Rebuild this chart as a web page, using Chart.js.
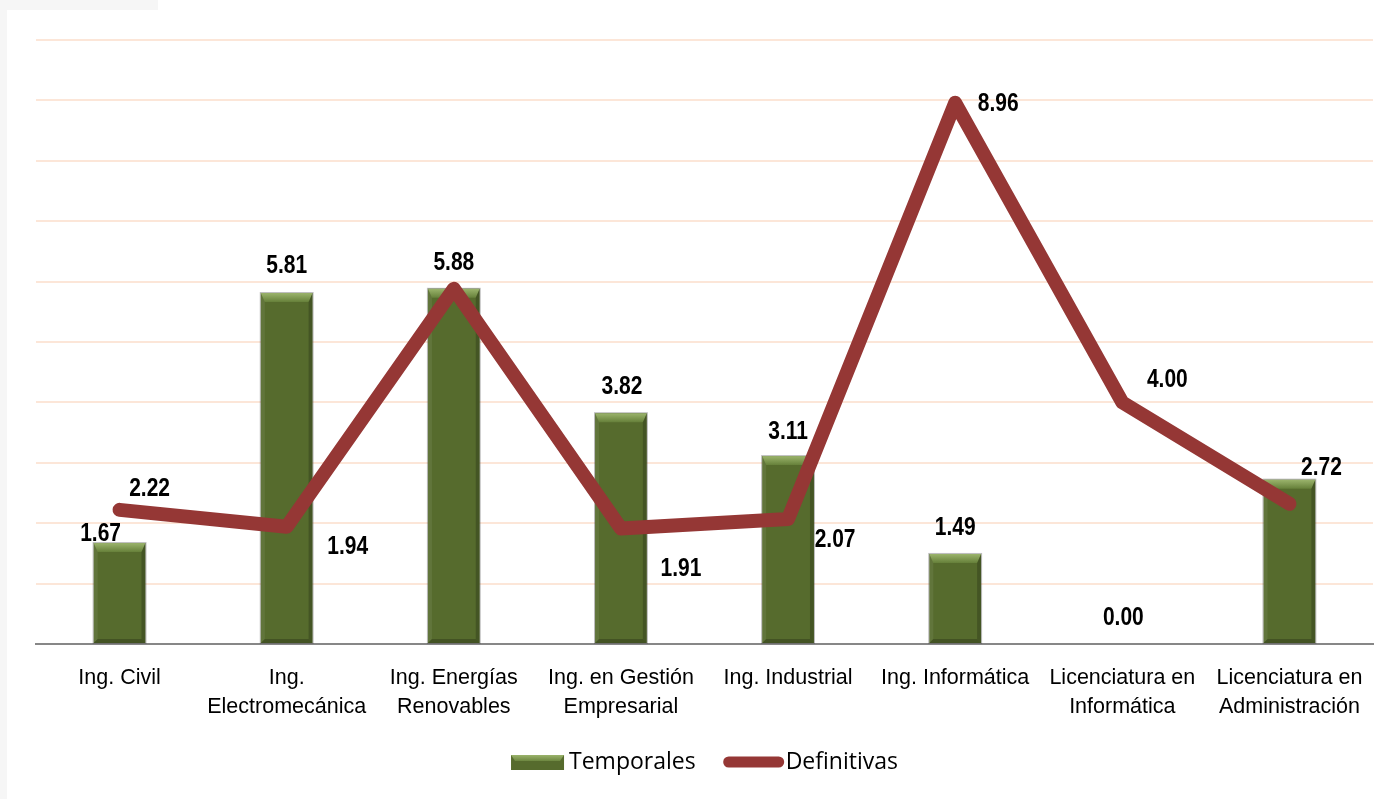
<!DOCTYPE html>
<html>
<head>
<meta charset="utf-8">
<script src="https://cdn.jsdelivr.net/npm/chart.js@4.4.0/dist/chart.umd.min.js"></script>
<style>
  html, body { margin: 0; padding: 0; background: #fff; }
  #wrap { position: relative; width: 1377px; height: 799px; }
  .strip { position: absolute; background: #f6f6f6; }
</style>
</head>
<body>
<div id="wrap">
  <div class="strip" style="left:0;top:0;width:7px;height:799px"></div>
  <div class="strip" style="left:0;top:0;width:158px;height:10px"></div>
  <canvas id="chart"></canvas>
</div>
<script>
const categories = [
  'Ing. Civil',
  ['Ing.', 'Electromecánica'],
  ['Ing. Energías', 'Renovables'],
  ['Ing. en Gestión', 'Empresarial'],
  'Ing. Industrial',
  'Ing. Informática',
  ['Licenciatura en', 'Informática'],
  ['Licenciatura en', 'Administración']
];
const temporales = [1.67, 5.81, 5.88, 3.82, 3.11, 1.49, 0.00, 2.72];
const definitivas = [2.22, 1.94, 5.88, 1.91, 2.07, 8.96, 4.00, 2.32];
const seriesNames = ['Temporales', 'Definitivas'];

// where each value label sits relative to its bar top / line point (null = no label)
const barLabelShift = [[-19, -9], [0, -27], [0, -26], [1, -26], [0, -24], [0, -26], [1, -26], [32, -12]];
const lineLabelShift = [[30, -21], [61, 20], null, [60, 41], [47, 21], [43, 1], [45, -22], null];

const GREEN = '#566b2d';
const RED = '#953735';
const SANS = '"Liberation Sans", Arial, sans-serif';

// bevelled look of the bars
const bevelBars = {
  id: 'bevelBars',
  afterDatasetDraw(chart, args) {
    if (args.index !== 0) return;
    const ctx = chart.ctx;
    args.meta.data.forEach(bar => {
      const p = bar.getProps(['x', 'y', 'base', 'width'], true);
      const h = p.base - p.y;
      if (h < 2) return;
      const l = p.x - p.width / 2, r = p.x + p.width / 2, t = p.y, b = p.base;
      const bv = Math.min(9, h / 2), sv = Math.min(4, h / 2);
      ctx.save();
      const g = ctx.createLinearGradient(0, t, 0, t + bv);
      g.addColorStop(0, '#9bb46c');
      g.addColorStop(1, '#66803a');
      ctx.fillStyle = g;
      ctx.beginPath();
      ctx.moveTo(l, t); ctx.lineTo(r, t); ctx.lineTo(r - sv, t + bv); ctx.lineTo(l + sv, t + bv);
      ctx.closePath(); ctx.fill();
      ctx.fillStyle = 'rgba(255,255,255,0.07)';
      ctx.beginPath();
      ctx.moveTo(l, t); ctx.lineTo(l + sv, t + bv); ctx.lineTo(l + sv, b - sv); ctx.lineTo(l, b);
      ctx.closePath(); ctx.fill();
      ctx.fillStyle = 'rgba(0,0,0,0.2)';
      ctx.beginPath();
      ctx.moveTo(r, t); ctx.lineTo(r - sv, t + bv); ctx.lineTo(r - sv, b - sv); ctx.lineTo(r, b);
      ctx.closePath(); ctx.fill();
      ctx.fillStyle = 'rgba(0,0,0,0.22)';
      ctx.beginPath();
      ctx.moveTo(l, b); ctx.lineTo(l + sv, b - sv); ctx.lineTo(r - sv, b - sv); ctx.lineTo(r, b);
      ctx.closePath(); ctx.fill();
      ctx.strokeStyle = 'rgba(60,60,60,0.35)';
      ctx.lineWidth = 1;
      ctx.strokeRect(l - 0.5, t - 0.5, p.width + 1, h + 1);
      ctx.restore();
    });
  }
};

// condensed bold value labels
function drawLabel(ctx, text, x, y) {
  ctx.save();
  ctx.translate(x, y);
  ctx.scale(0.84, 1);
  ctx.fillText(text, 0, 0);
  ctx.restore();
}

const valueLabels = {
  id: 'valueLabels',
  afterDatasetsDraw(chart) {
    const ctx = chart.ctx;
    ctx.save();
    ctx.font = 'bold 25px ' + SANS;
    ctx.fillStyle = '#000';
    ctx.textAlign = 'center';
    ctx.textBaseline = 'middle';
    chart.getDatasetMeta(0).data.forEach((bar, i) => {
      const s = barLabelShift[i];
      if (!s) return;
      drawLabel(ctx, temporales[i].toFixed(2), bar.x + s[0], bar.y + s[1]);
    });
    chart.getDatasetMeta(1).data.forEach((pt, i) => {
      const s = lineLabelShift[i];
      if (!s) return;
      drawLabel(ctx, definitivas[i].toFixed(2), pt.x + s[0], pt.y + s[1]);
    });
    ctx.restore();
  }
};

const bottomLegend = {
  id: 'bottomLegend',
  afterDraw(chart) {
    const ctx = chart.ctx;
    const area = chart.chartArea;
    ctx.save();
    ctx.font = '23px "Open Sans", sans-serif';
    const w0 = ctx.measureText(seriesNames[0]).width;
    const w1 = ctx.measureText(seriesNames[1]).width;
    const boxW = 53, lineW = 60, gap = 28;
    const total = boxW + 5 + w0 + gap + lineW + 2 + w1;
    let x = (area.left + area.right) / 2 - total / 2;
    const cy = 762;
    // bar swatch
    ctx.fillStyle = GREEN;
    ctx.fillRect(x, cy - 7, boxW, 15);
    const g = ctx.createLinearGradient(0, cy - 7, 0, cy - 1);
    g.addColorStop(0, '#9bb46c'); g.addColorStop(1, '#6d8740');
    ctx.fillStyle = g;
    ctx.beginPath();
    ctx.moveTo(x, cy - 7); ctx.lineTo(x + boxW, cy - 7); ctx.lineTo(x + boxW - 4, cy - 1); ctx.lineTo(x + 4, cy - 1);
    ctx.closePath(); ctx.fill();
    x += boxW + 5;
    ctx.fillStyle = '#000';
    ctx.textBaseline = 'middle';
    ctx.fillText(seriesNames[0], x, cy);
    x += w0 + gap;
    ctx.strokeStyle = RED;
    ctx.lineWidth = 11;
    ctx.lineCap = 'round';
    ctx.beginPath();
    ctx.moveTo(x + 5, cy); ctx.lineTo(x + lineW - 5, cy);
    ctx.stroke();
    x += lineW + 2;
    ctx.fillText(seriesNames[1], x, cy);
    ctx.restore();
  }
};

new Chart(document.getElementById('chart'), {
  type: 'bar',
  data: {
    labels: categories,
    datasets: [
      {
        type: 'bar',
        label: seriesNames[0],
        data: temporales,
        backgroundColor: GREEN,
        barPercentage: 0.31,
        categoryPercentage: 1,
        order: 1
      },
      {
        type: 'line',
        label: seriesNames[1],
        data: definitivas,
        borderColor: RED,
        backgroundColor: RED,
        borderWidth: 14,
        borderCapStyle: 'round',
        borderJoinStyle: 'round',
        pointRadius: 0,
        tension: 0,
        order: 0
      }
    ]
  },
  options: {
    responsive: true,
    maintainAspectRatio: false,
    animation: false,
    layout: { padding: { left: 36, right: 4, top: 40, bottom: 65 } },
    plugins: {
      legend: { display: false },
      tooltip: { enabled: false }
    },
    scales: {
      x: {
        grid: { display: false },
        border: { color: '#878787', width: 2 },
        ticks: {
          color: '#000',
          padding: 12,
          maxRotation: 0,
          autoSkip: false,
          font: { family: SANS, size: 21.5, lineHeight: 1.35 }
        }
      },
      y: {
        min: 0,
        max: 10,
        ticks: { display: false, stepSize: 1 },
        border: { display: false },
        grid: {
          drawTicks: false,
          lineWidth: 2,
          color: c => c.tick && c.tick.value === 0 ? '#878787' : '#fce6d8'
        }
      }
    }
  },
  plugins: [bevelBars, valueLabels, bottomLegend]
});
</script>
</body>
</html>
